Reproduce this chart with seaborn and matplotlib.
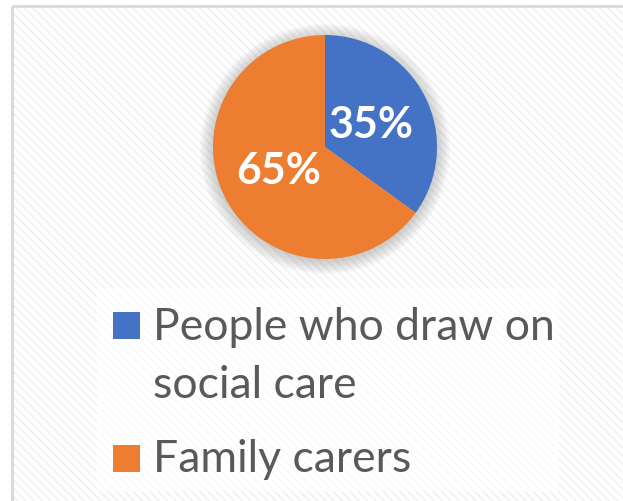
import matplotlib
matplotlib.use("Agg")
import matplotlib.pyplot as plt
import matplotlib.patches as mpatches
import seaborn as sns

# Share of care provided
categories = ["People who draw on social care", "Family carers"]
legend_lines = [["People who draw on", "social care"], ["Family carers"]]
shares = [35, 65]

sns.set_theme(style="white")
plt.rcParams["font.family"] = ["Lato", "DejaVu Sans"]
plt.rcParams["hatch.linewidth"] = 1.2
colors = sns.color_palette(["#4472C4", "#ED7D31"])

W, H = 623, 502
fig = plt.figure(figsize=(W / 100, H / 100), dpi=100)
fig.patch.set_facecolor("white")

# background canvas in pixel coordinates
bg = fig.add_axes([0, 0, 1, 1])
bg.set_xlim(0, W)
bg.set_ylim(H, 0)
bg.axis("off")
bg.add_patch(mpatches.Rectangle((12, 7), W, H, facecolor="white",
                                edgecolor="#f1f1f1", hatch="\\\\\\\\", lw=0))
bg.add_patch(mpatches.Rectangle((12, 7), W, H, facecolor="none",
                                edgecolor="#d9d9d9", lw=2))
# legend panel
bg.add_patch(mpatches.Rectangle((97, 289), 462, 203, facecolor="white",
                                edgecolor="none", alpha=0.75))
# soft shadow behind the pie
for i in range(12):
    bg.add_patch(mpatches.Circle((325, 150), 112 + i * 1.2, facecolor="#808080",
                                 edgecolor="none", alpha=0.035))

# pie
cx, cy, r = 325, 148, 112
ax = fig.add_axes([(cx - r) / W, 1 - (cy + r) / H, 2 * r / W, 2 * r / H])
wedges, texts, autotexts = ax.pie(
    shares, colors=colors, startangle=90, counterclock=False,
    autopct=lambda p: f"{p:.0f}%", pctdistance=0.46,
    wedgeprops=dict(linewidth=0),
    textprops=dict(color="white", fontsize=31, fontweight="bold"),
)
ax.set_xlim(-1, 1)
ax.set_ylim(-1, 1)
ax.set_aspect("equal")
ax.axis("off")

# legend: swatch plus one text line per baseline
swatch_tops = [313, 446]
baselines = [[340, 398], [472]]
for top, lines, bases, col in zip(swatch_tops, legend_lines, baselines, colors):
    bg.add_patch(mpatches.Rectangle((113, top), 27, 27, facecolor=col, edgecolor="none"))
    for line, base in zip(lines, bases):
        bg.text(153, base, line, fontsize=32, color="#595959",
                va="baseline", ha="left")

fig.savefig("out.png", dpi=100)
